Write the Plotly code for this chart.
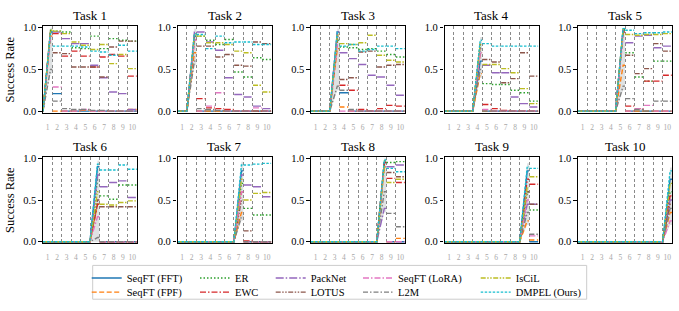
import plotly.graph_objects as go

# ---------------- data ----------------
methods = ["SeqFT (FFT)", "SeqFT (FPF)", "ER", "EWC", "PackNet", "LOTUS",
           "SeqFT (LoRA)", "L2M", "IsCiL", "DMPEL (Ours)"]
tasks = ["Task 1", "Task 2", "Task 3", "Task 4", "Task 5",
         "Task 6", "Task 7", "Task 8", "Task 9", "Task 10"]
stage_labels = ["1", "2", "3", "4", "5", "6", "7", "8", "9", "10"]
y_ticks = [0.0, 0.5, 1.0]

# per task: [value reached while learning the task, value after stage t+1, ..., after stage 10]
seqft_fft = [
    [0.95, 0.21, 0, 0, 0, 0, 0, 0, 0, 0],
    [0.90, 0, 0, 0, 0, 0, 0, 0, 0],
    [0.95, 0.22, 0, 0, 0, 0, 0, 0],
    [0.60, 0, 0, 0, 0, 0, 0],
    [0.98, 0, 0, 0, 0, 0],
    [0.90, 0, 0, 0, 0],
    [0.85, 0, 0, 0],
    [0.95, 0, 0],
    [0.85, 0.0],
    [0.75],
]
seqft_fpf = [
    [0.90, 0.0, 0, 0, 0.01, 0, 0, 0, 0, 0.02],
    [0.70, 0.0, 0, 0, 0, 0, 0, 0, 0],
    [0.75, 0.05, 0, 0, 0, 0, 0, 0],
    [0.45, 0, 0, 0, 0, 0, 0],
    [0.55, 0, 0, 0, 0, 0],
    [0.45, 0, 0, 0, 0],
    [0.35, 0, 0, 0],
    [0.90, 0, 0.04],
    [0.25, 0.02],
    [0.35],
]
er = [
    [0.97, 0.96, 0.95, 0.76, 0.75, 0.90, 0.75, 0.87, 0.85, 0.84],
    [0.90, 0.90, 0.85, 0.80, 0.86, 0.47, 0.41, 0.64, 0.62],
    [0.85, 0.77, 0.76, 0.74, 0.75, 0.72, 0.68, 0.65],
    [0.80, 0.33, 0.32, 0.32, 0.25, 0.22, 0.12],
    [0.97, 0.70, 0.41, 0.36, 0.60, 0.60],
    [0.75, 0.55, 0.51, 0.68, 0.68],
    [0.70, 0.40, 0.32, 0.32],
    [0.97, 0.95, 0.96],
    [0.60, 0.38],
    [0.60],
]
ewc = [
    [0.95, 0.93, 0.66, 0.72, 0.66, 0.53, 0.65, 0.68, 0.66, 0.42],
    [0.85, 0.15, 0.04, 0.03, 0.02, 0.0, 0.0, 0.0, 0.0],
    [0.85, 0.31, 0.25, 0.02, 0.0, 0.03, 0.07, 0.06],
    [0.70, 0.08, 0.03, 0.01, 0.0, 0.0, 0.0],
    [0.95, 0.06, 0.03, 0.36, 0.36, 0.43],
    [0.45, 0.0, 0.0, 0.0, 0.0],
    [0.60, 0.01, 0.0, 0.0],
    [0.95, 0.76, 0.71],
    [0.75, 0.69],
    [0.55],
]
packnet = [
    [0.95, 0.95, 0.87, 0.81, 0.81, 0.55, 0.40, 0.23, 0.21, 0.02],
    [0.95, 0.95, 0.83, 0.73, 0.40, 0.20, 0.17, 0.06, 0.03],
    [0.95, 0.70, 0.63, 0.56, 0.43, 0.41, 0.31, 0.19],
    [0.75, 0.55, 0.46, 0.46, 0.17, 0.09, 0.05],
    [0.98, 0.82, 0.90, 0.91, 0.76, 0.78],
    [0.80, 0.66, 0.71, 0.73, 0.53],
    [0.80, 0.68, 0.66, 0.54],
    [0.40, 0.90, 0.92],
    [0.45, 0.45],
    [0.50],
]
lotus = [
    [0.95, 0.70, 0.69, 0.53, 0.53, 0.53, 0.41, 0.77, 0.84, 0.84],
    [0.90, 0.78, 0.78, 0.65, 0.68, 0.55, 0.54, 0.83, 0.81],
    [0.90, 0.38, 0.40, 0.71, 0.72, 0.53, 0.55, 0.56],
    [0.80, 0.62, 0.59, 0.34, 0.39, 0.70, 0.42],
    [0.95, 0.67, 0.45, 0.51, 0.81, 0.72],
    [0.50, 0.42, 0.42, 0.42, 0.42],
    [0.50, 0.13, 0.0, 0.0],
    [0.95, 0.83, 0.78],
    [0.60, 0.45],
    [0.45],
]
seqft_lora = [
    [0.90, 0.29, 0.0, 0.0, 0.02, 0.0, 0.0, 0.0, 0.0, 0.0],
    [0.85, 0.0, 0.06, 0.22, 0.0, 0.0, 0.0, 0.04, 0.0],
    [0.80, 0.0, 0.0, 0.0, 0.0, 0.0, 0.0, 0.0],
    [0.70, 0.02, 0.0, 0.0, 0.0, 0.0, 0.0],
    [0.90, 0.0, 0.03, 0.07, 0.0, 0.0],
    [0.30, 0.0, 0.0, 0.0, 0.0],
    [0.60, 0.0, 0.0, 0.0],
    [0.90, 0.0, 0.0],
    [0.50, 0.07],
    [0.25],
]
l2m = [
    [0.50, 0.12, 0.03, 0.02, 0.02, 0.01, 0.01, 0.0, 0.0, 0.0],
    [0.60, 0.03, 0.02, 0.01, 0.0, 0.0, 0.0, 0.0, 0.0],
    [0.30, 0.25, 0.02, 0.0, 0.0, 0.0, 0.0, 0.0],
    [0.50, 0.0, 0.0, 0.0, 0.0, 0.0, 0.0],
    [0.30, 0.15, 0.02, 0.0, 0.12, 0.12],
    [0.05, 0.0, 0.0, 0.0, 0.0],
    [0.30, 0.0, 0.0, 0.0],
    [0.60, 0.34, 0.18],
    [0.35, 0.09],
    [0.40],
]
iscil = [
    [0.97, 0.96, 0.93, 0.83, 0.79, 0.74, 0.80, 0.57, 0.68, 0.51],
    [0.92, 0.90, 0.82, 0.82, 0.80, 0.72, 0.70, 0.31, 0.23],
    [0.92, 0.81, 0.80, 0.82, 0.91, 0.67, 0.61, 0.59],
    [0.80, 0.56, 0.56, 0.51, 0.46, 0.27, 0.09],
    [0.98, 0.92, 0.91, 0.92, 0.92, 0.93],
    [0.60, 0.45, 0.44, 0.47, 0.49],
    [0.75, 0.50, 0.58, 0.59],
    [0.90, 0.71, 0.75],
    [0.65, 0.78],
    [0.70],
]
dmpel = [
    [0.95, 0.78, 0.78, 0.78, 0.77, 0.72, 0.71, 0.67, 0.79, 0.72],
    [0.93, 0.92, 0.75, 0.90, 0.82, 0.83, 0.83, 0.80, 0.80],
    [0.95, 0.78, 0.80, 0.72, 0.74, 0.78, 0.78, 0.75],
    [0.85, 0.81, 0.78, 0.78, 0.78, 0.78, 0.78],
    [0.99, 0.97, 0.93, 0.94, 0.94, 0.95],
    [0.93, 0.86, 0.86, 0.92, 0.87],
    [0.92, 0.92, 0.93, 0.94],
    [0.98, 0.88, 0.84],
    [0.90, 0.88],
    [0.85],
]
series = [seqft_fft, seqft_fpf, er, ewc, packnet, lotus, seqft_lora, l2m, iscil, dmpel]

# ---------------- style ----------------
colors = ["#1f77b4", "#ff7f0e", "#2ca02c", "#d62728", "#9467bd", "#8c564b",
          "#e377c2", "#7f7f7f", "#bcbd22", "#17becf"]
dashes = ["solid", "5px,2.5px", "1.5px,2px", "6px,2px,1.5px,2px", "8px,2px,1.5px,2px",
          "5px,1.5px,1.5px,1.5px,1.5px,1.5px", "6px,2px,1.5px,2px", "5px,2px,1.5px,2px",
          "5px,1.5px,1.5px,1.5px,1.5px,1.5px", "2.5px,1.5px"]
legend_col = [0, 0, 1, 1, 2, 2, 3, 3, 4, 4]
legend_row = [0, 1, 0, 1, 0, 1, 0, 1, 0, 1]
FONT = "Liberation Serif"

W, H = 679, 311
col_left = [43, 177.5, 311, 444.5, 578]
axw = 94
row_top = [22.7, 156.7]
axh = 89
n_stage = len(stage_labels)

fig = go.Figure()
annotations = []
layout = {}

for k, task in enumerate(tasks):
    r, c = divmod(k, 5)
    n = k + 1
    sfx = "" if n == 1 else str(n)
    t = k + 1
    peaks = [s[k][0] for s in series]
    bx = [t - 0.5, t + 0.3, t + 0.5, t + 0.5, t + 0.3, t - 0.5]
    by = [0, min(1.0, max(peaks) + 0.04), min(1.0, max(peaks) + 0.04),
          max(0, min(peaks) - 0.05), max(0, min(peaks) - 0.05), 0]
    fig.add_trace(go.Scatter(x=bx, y=by, fill="toself", mode="lines",
                             line=dict(width=0), fillcolor="rgba(140,150,155,0.28)",
                             hoverinfo="skip", showlegend=False,
                             xaxis="x" + sfx, yaxis="y" + sfx))
    for m, s in enumerate(series):
        vals = s[k]
        xs, ys = [], []
        xs += [0.5, t - 0.5]
        ys += [0, 0]
        xs += [t + 0.3, t + 0.5]
        ys += [vals[0], vals[0]]
        xs.append(None); ys.append(None)
        for j, v in enumerate(vals[1:]):
            st = t + 1 + j
            xs += [st - 0.47, st + 0.47, None]
            ys += [v, v, None]
        lg = "legend" if m == 0 else "legend%d" % (m + 1)
        fig.add_trace(go.Scatter(
            x=xs, y=ys, mode="lines", name=methods[m],
            line=dict(color=colors[m], width=1.4, dash=dashes[m]),
            legendgroup=methods[m], showlegend=(k == 0), legend=lg,
            xaxis="x" + sfx, yaxis="y" + sfx))

    x0 = col_left[c] / W
    x1 = (col_left[c] + axw) / W
    y1 = 1 - row_top[r] / H
    y0 = 1 - (row_top[r] + axh) / H
    layout["xaxis" + sfx] = dict(
        domain=[x0, x1], anchor="y" + sfx, range=[0.5, 10.5],
        tickmode="array", tickvals=list(range(1, n_stage + 1)), ticktext=stage_labels,
        ticks="", ticklabelstandoff=7,
        tickfont=dict(family=FONT, size=7.5, color="#a8a8a8"),
        showline=True, mirror=True, linecolor="black", linewidth=1.2,
        showgrid=False, zeroline=False,
        minor=dict(tickmode="array", tickvals=[i + 0.5 for i in range(1, n_stage)],
                   showgrid=True, gridcolor="#8a8a8a", gridwidth=1, griddash="3px,2.5px",
                   ticks=""))
    layout["yaxis" + sfx] = dict(
        domain=[y0, y1], anchor="x" + sfx, range=[-0.02, 1.02],
        tickmode="array", tickvals=y_ticks, ticktext=["%.1f" % v for v in y_ticks],
        ticks="outside", ticklen=3.5, tickwidth=1, tickcolor="black",
        tickfont=dict(family=FONT, size=10.5, color="black"),
        showline=True, mirror=True, linecolor="black", linewidth=1.2,
        showgrid=False, zeroline=False)
    annotations.append(dict(text=task, x=(x0 + x1) / 2, y=1 - (row_top[r] - 10.5) / H,
                            xref="paper", yref="paper", showarrow=False,
                            xanchor="center", yanchor="middle",
                            font=dict(family=FONT, size=13, color="black")))

for r in range(2):
    annotations.append(dict(text="Success Rate", x=10 / W, y=1 - (row_top[r] + axh / 2) / H,
                            xref="paper", yref="paper", showarrow=False, textangle=-90,
                            xanchor="center", yanchor="middle",
                            font=dict(family=FONT, size=12.5, color="black")))

text_start = [126.7, 235, 310.7, 398, 515.7]
row_y = [281.3, 295.7]
for m in range(len(methods)):
    lg = "legend" if m == 0 else "legend%d" % (m + 1)
    layout[lg] = dict(x=(text_start[legend_col[m]] - 40) / W,
                      y=1 - row_y[legend_row[m]] / H,
                      xanchor="left", yanchor="middle",
                      bgcolor="rgba(0,0,0,0)", borderwidth=0,
                      font=dict(family=FONT, size=10.5, color="black"))

fig.update_layout(**layout)
fig.update_layout(
    width=W, height=H, margin=dict(l=0, r=0, t=0, b=0),
    paper_bgcolor="white", plot_bgcolor="white",
    annotations=annotations,
    shapes=[dict(type="rect", xref="paper", yref="paper",
                 x0=92.7 / W, x1=586.7 / W, y0=1 - 303 / H, y1=1 - 268.3 / H,
                 line=dict(color="#cccccc", width=1), fillcolor="rgba(0,0,0,0)")],
    font=dict(family=FONT),
)
fig.write_html("out.html", config={"displayModeBar": False},
               post_script="document.body.style.margin='0';document.body.style.overflow='hidden';")
